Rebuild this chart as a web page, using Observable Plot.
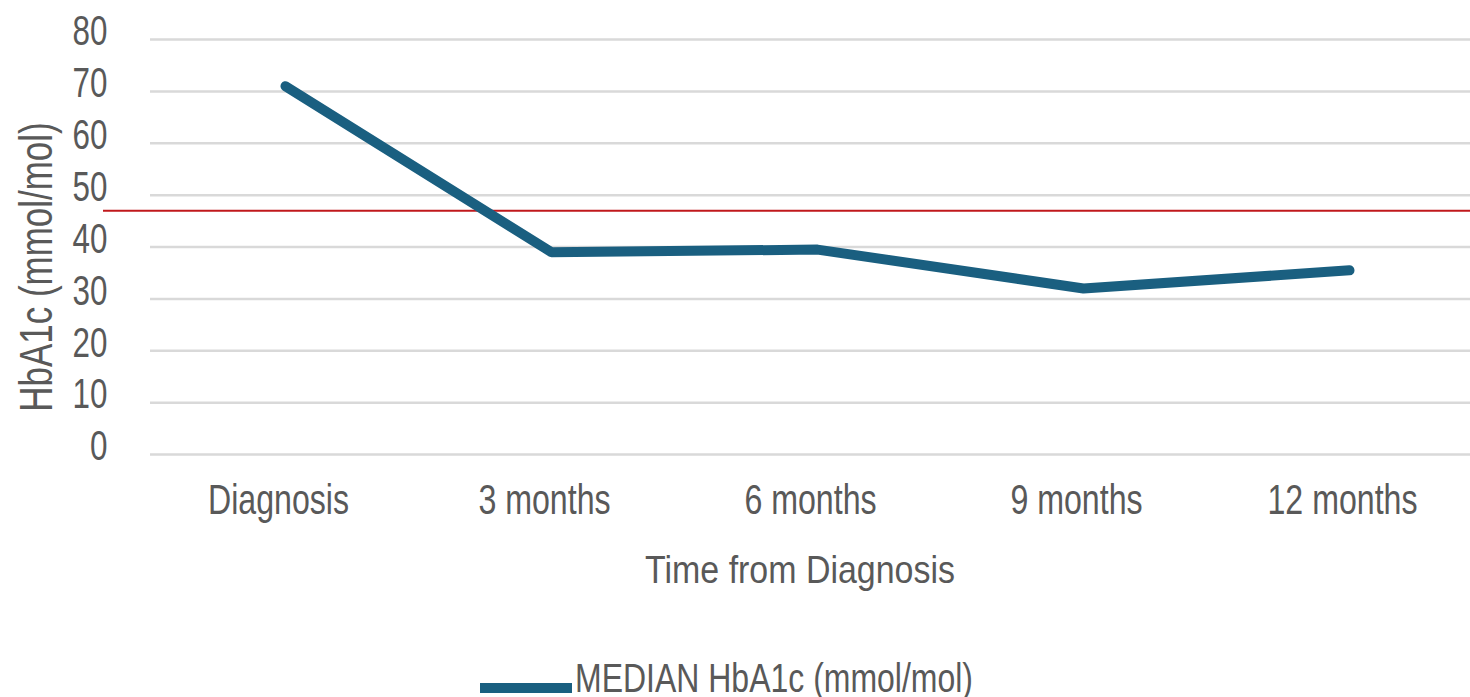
<!DOCTYPE html>
<html>
<head>
<meta charset="utf-8">
<script src="https://cdn.jsdelivr.net/npm/d3@7"></script>
<script src="https://cdn.jsdelivr.net/npm/@observablehq/plot@0.6"></script>
<style>
  html, body { margin: 0; padding: 0; background: #fff; }
  #chart {
    position: relative;
    width: 1470px;
    height: 697px;
    overflow: hidden;
    font-family: "Liberation Sans", Arial, sans-serif;
    color: #595959;
  }
  .legend-swatch {
    position: absolute;
    left: 480px;
    top: 683px;
    width: 92px;
    height: 10px;
    background: #1a5f80;
  }
  .legend-label {
    position: absolute;
    left: 575px;
    top: 658px;
    font-size: 41px;
    line-height: 1;
    white-space: nowrap;
    transform: scaleX(0.78);
    transform-origin: left center;
  }
</style>
</head>
<body>
<div id="chart"></div>
<script>
// Median HbA1c at each follow-up time point
const timepoints = ["Diagnosis", "3 months", "6 months", "9 months", "12 months"];
const medianHbA1c = [71, 39, 39.5, 32, 35.5];
// Reference threshold drawn as a horizontal red line
const thresholdHbA1c = [47];
const yTicks = [0, 10, 20, 30, 40, 50, 60, 70, 80];

const seriesName = "MEDIAN HbA1c (mmol/mol)";
const xTitle = "Time from Diagnosis";
const yTitle = "HbA1c (mmol/mol)";

const rows = timepoints.map((t, i) => ({ time: t, value: medianHbA1c[i] }));

const plot = Plot.plot({
  width: 1470,
  height: 620,
  marginTop: 39,
  marginBottom: 166,
  marginLeft: 150,
  marginRight: -13,
  style: { fontFamily: '"Liberation Sans", Arial, sans-serif', color: "#595959", background: "white", overflow: "visible" },
  x: { type: "point", domain: timepoints, padding: 0.5 },
  y: { domain: [0, 80] },
  marks: [
    Plot.ruleY(yTicks, { stroke: "#d9d9d9", strokeWidth: 2.5 }),
    Plot.ruleY(thresholdHbA1c, { stroke: "#c0181c", strokeWidth: 2, insetLeft: -47 }),
    Plot.line(rows, {
      x: "time",
      y: "value",
      stroke: "#1a5f80",
      strokeWidth: 10,
      strokeLinejoin: "miter",
      strokeLinecap: "round"
    }),
    Plot.axisY({ ticks: yTicks, tickSize: 0, tickPadding: 43, dy: -8, fontSize: 43, label: null }),
    Plot.axisX({ tickSize: 0, tickPadding: 30, dx: -7, fontSize: 42, label: null }),
    Plot.text([xTitle], {
      frameAnchor: "bottom",
      lineAnchor: "bottom",
      dy: 128,
      dx: -17,
      fontSize: 39,
      fill: "#595959"
    }),
    Plot.text([yTitle], {
      frameAnchor: "left",
      textAnchor: "middle",
      lineAnchor: "middle",
      rotate: -90,
      dx: -113,
      dy: 20,
      fontSize: 46,
      fill: "#595959"
    })
  ]
});

const chart = document.getElementById("chart");
chart.appendChild(plot);

// Condense the label glyphs horizontally (narrow typeface look)
function squeeze(elements, factor) {
  elements.forEach((el) => {
    const len = el.getComputedTextLength();
    el.setAttribute("textLength", (len * factor).toFixed(1));
    el.setAttribute("lengthAdjust", "spacingAndGlyphs");
  });
}
squeeze(plot.querySelectorAll('g[aria-label="y-axis tick label"] text'), 0.73);
squeeze(plot.querySelectorAll('g[aria-label="x-axis tick label"] text'), 0.765);
const titleGroups = plot.querySelectorAll('g[aria-label="text"]');
squeeze(titleGroups[0].querySelectorAll("text"), 0.87);
squeeze(titleGroups[1].querySelectorAll("text"), 0.76);

// Legend below the plot
const swatch = document.createElement("div");
swatch.className = "legend-swatch";
const label = document.createElement("div");
label.className = "legend-label";
label.textContent = seriesName;
chart.appendChild(swatch);
chart.appendChild(label);
</script>
</body>
</html>
